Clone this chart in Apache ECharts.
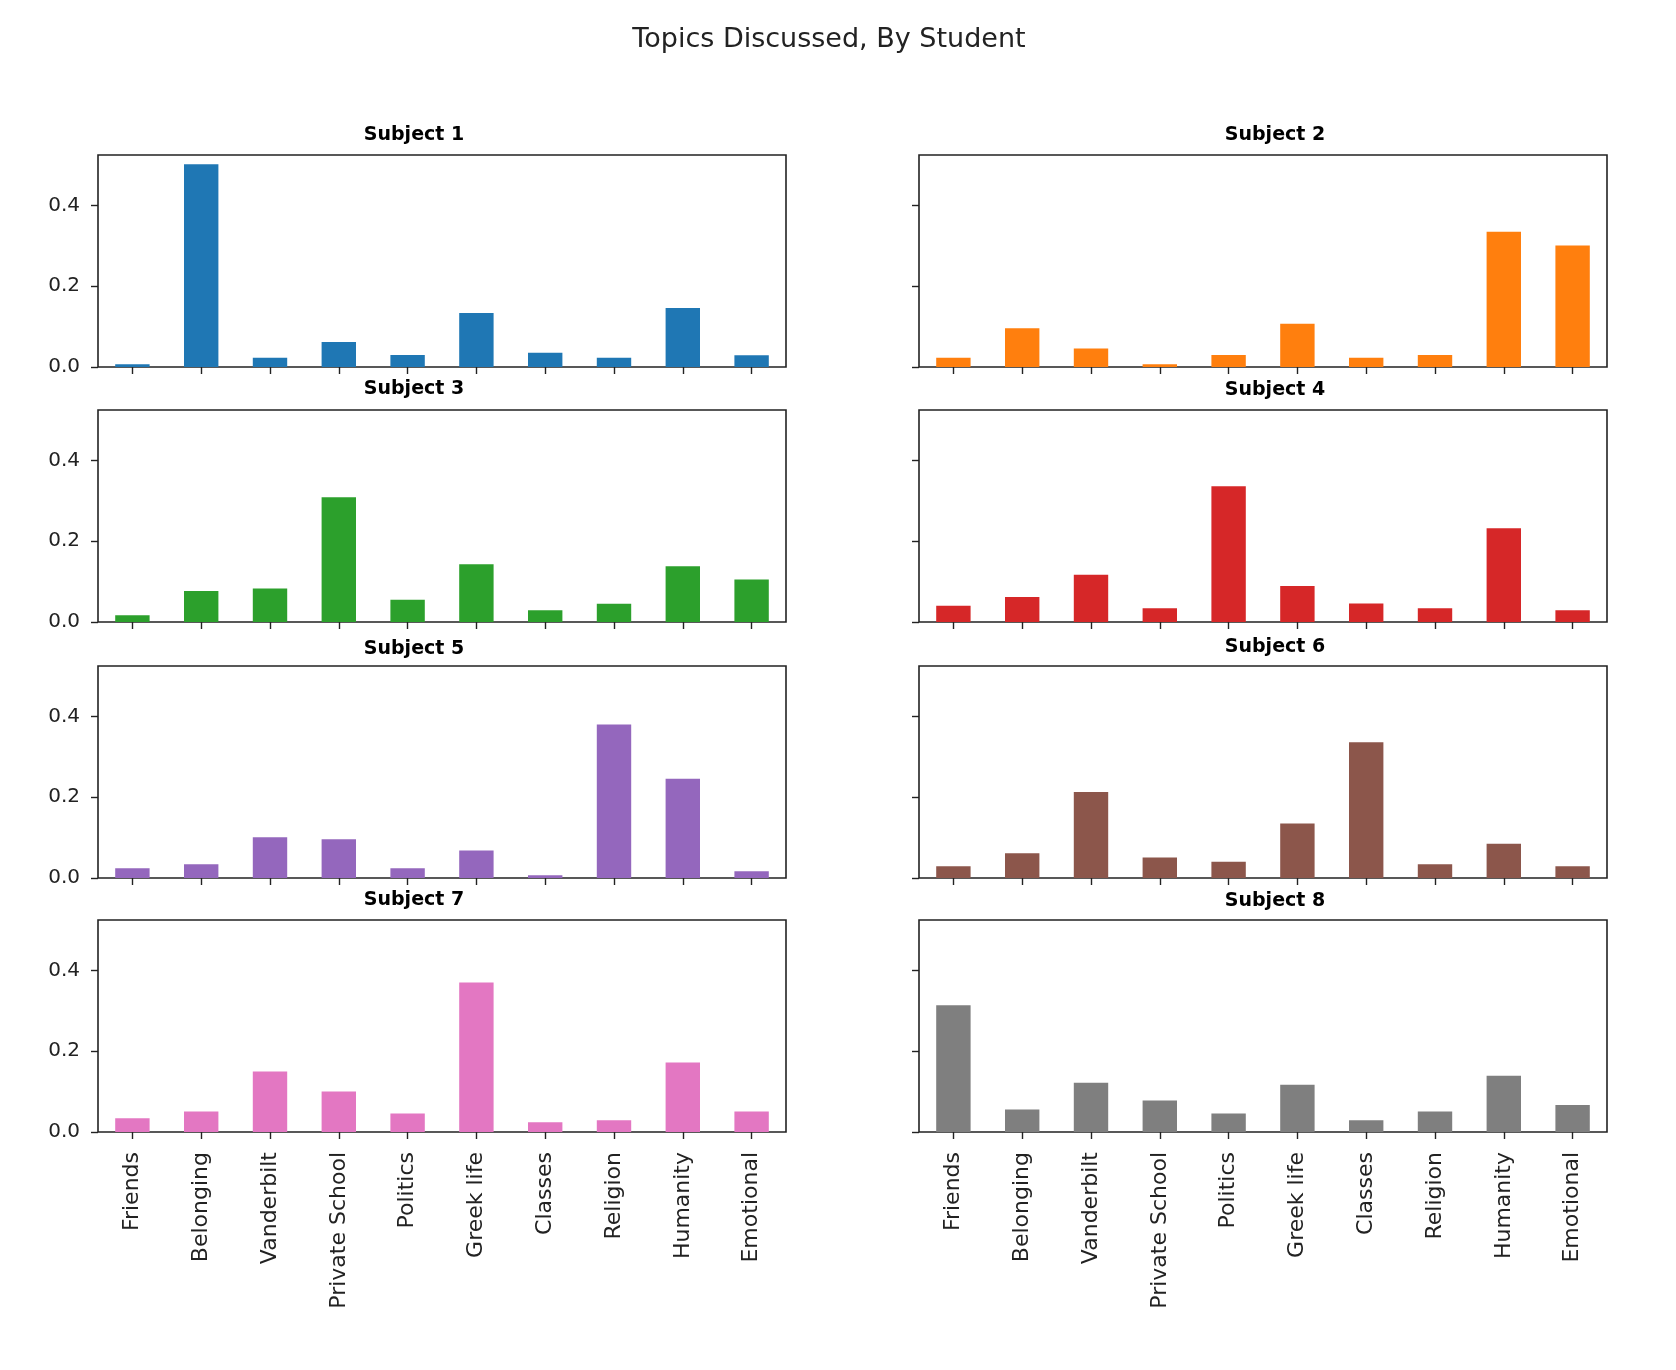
<!DOCTYPE html>
<html>
<head>
<meta charset="utf-8">
<script src="https://cdn.jsdelivr.net/npm/echarts@6/dist/echarts.min.js"></script>
<style>
html,body{margin:0;padding:0;background:#fff;}
#chart{width:1676px;height:1370px;}
</style>
</head>
<body>
<div id="chart"></div>
<script>
const categories = ["Friends","Belonging","Vanderbilt","Private School","Politics","Greek life","Classes","Religion","Humanity","Emotional"];
const subject1 = [0.007,0.502,0.023,0.062,0.030,0.134,0.035,0.023,0.146,0.029];
const subject2 = [0.023,0.096,0.046,0.007,0.030,0.107,0.023,0.030,0.335,0.301];
const subject3 = [0.017,0.077,0.083,0.309,0.055,0.143,0.029,0.045,0.138,0.105];
const subject4 = [0.040,0.062,0.117,0.034,0.336,0.089,0.046,0.034,0.232,0.029];
const subject5 = [0.024,0.034,0.101,0.096,0.024,0.068,0.007,0.380,0.246,0.017];
const subject6 = [0.029,0.061,0.213,0.051,0.040,0.135,0.336,0.034,0.085,0.029];
const subject7 = [0.034,0.051,0.150,0.100,0.046,0.370,0.024,0.029,0.172,0.051];
const subject8 = [0.314,0.056,0.122,0.078,0.046,0.117,0.029,0.051,0.139,0.067];
const subjectNames = ["Subject 1","Subject 2","Subject 3","Subject 4","Subject 5","Subject 6","Subject 7","Subject 8"];
const yTicks = [0, 0.2, 0.4];
const yMax = 0.525;
const chartTitle = "Topics Discussed, By Student";

const allData = [subject1,subject2,subject3,subject4,subject5,subject6,subject7,subject8];
const colors = ["#1f77b4","#ff7f0e","#2ca02c","#d62728","#9467bd","#8c564b","#e377c2","#7f7f7f"];

const colLeft = [98, 919];
const gridW = 688;
const rowTop = [155, 410, 666, 920];
const gridH = 212;
const titleCenterX = [409, 1270];
const titleTop = [[121,121],[375,376],[635,633],[886,887]];
const FONT = "DejaVu Sans";

const grids = [], xAxes = [], yAxes = [], series = [], titles = [];
titles.push({
  text: chartTitle, left: 824, top: 21, textAlign: 'center',
  textStyle: {fontFamily: FONT, fontSize: 27, fontWeight: 'normal', color: '#222'}
});
for (let i = 0; i < 8; i++) {
  const r = Math.floor(i / 2), c = i % 2;
  grids.push({
    left: colLeft[c], top: rowTop[r], width: gridW, height: gridH,
    show: true, borderColor: '#222', borderWidth: 1.6, backgroundColor: 'transparent',
    outerBoundsMode: 'none'
  });
  xAxes.push({
    type: 'category', gridIndex: i, data: categories, boundaryGap: true,
    axisLine: {show: false},
    axisTick: {show: true, alignWithLabel: true, length: 7, lineStyle: {color: '#222', width: 1.4}},
    axisLabel: {show: r === 3, rotate: 90, interval: 0, margin: 20, fontFamily: FONT, fontSize: 22, color: '#222'},
    splitLine: {show: false}
  });
  yAxes.push({
    type: 'value', gridIndex: i, min: 0, max: yMax,
    axisLine: {show: false},
    axisTick: {show: true, length: 7, customValues: yTicks, lineStyle: {color: '#222', width: 1.4}},
    axisLabel: {show: c === 0, customValues: yTicks, margin: 18, fontFamily: FONT, fontSize: 20, color: '#222',
      formatter: v => Number(v).toFixed(1)},
    splitLine: {show: false}
  });
  series.push({
    type: 'bar', xAxisIndex: i, yAxisIndex: i, data: allData[i], barWidth: '50%',
    itemStyle: {color: colors[i]}, silent: true
  });
  titles.push({
    text: subjectNames[i], left: titleCenterX[c], top: titleTop[r][c], textAlign: 'center',
    textStyle: {fontFamily: FONT, fontSize: 19, fontWeight: 'bold', color: '#000'}
  });
}

const chart = echarts.init(document.getElementById('chart'), null, {renderer: 'canvas'});
chart.setOption({
  animation: false,
  backgroundColor: '#fff',
  title: titles,
  grid: grids,
  xAxis: xAxes,
  yAxis: yAxes,
  series: series
});
</script>
</body>
</html>
